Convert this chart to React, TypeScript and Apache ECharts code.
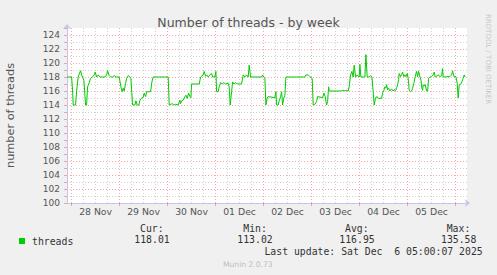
import React, { useEffect, useRef } from 'react';
import * as echarts from 'echarts';

// time in hours since 28 Nov 00:00
const hours = [
  -2.3, 0, 0.5, 0.8, 2, 2.5, 3.3, 3.65, 4.5, 5, 5.5, 6.15, 7, 7.5, 8, 8.8, 9.5, 10.5, 11.3, 11.8,
  12.5, 13.3, 14.2, 16.65, 17.5, 18, 18.8, 19.5, 20.5, 21.3, 22.2, 23.8, 24.65, 25.3, 25.8, 26.3, 27, 27.5, 28.3, 29.15,
  29.65, 30.5, 31.65, 32.15, 32.8, 33.65, 34.15, 35, 35.8, 36.3, 37, 37.5, 39.5, 40.15, 40.8, 48.3, 48.8, 50.3, 51.15, 52,
  53.3, 54.15, 54.5, 55, 55.8, 56.65, 57.15, 57.8, 58.5, 59.15, 59.65, 60, 63.8, 64.5, 65.8, 66.3, 67, 67.5, 68.3, 69.15,
  70, 70.5, 71.65, 72.15, 72.5, 73.3, 73.8, 74.5, 75.3, 76.15, 77, 78.3, 78.8, 79.3, 80, 80.5, 81.15, 82.15, 82.8, 84.15,
  85, 85.8, 86.65, 87.5, 88.3, 88.8, 89.5, 95, 95.5, 96.15, 96.65, 97.15, 97.8, 98.3, 101.65, 102.15, 102.5, 103.3, 103.8, 104.5,
  105, 105.5, 106.15, 106.65, 107.15, 116.65, 117.15, 118.3, 119.15, 120.3, 120.8, 121.65, 122.5, 123, 125.5, 126.15, 126.8, 127.5, 128, 128.5,
  128.8, 135, 135.8, 136.65, 137.5, 138.3, 138.8, 139.5, 140.15, 140.8, 141.3, 142, 142.8, 143.8, 144.15, 144.65, 146.65, 147.15, 147.8, 148.8,
  149.5, 150.15, 150.8, 151.3, 152, 152.8, 153.3, 155, 155.5, 156.15, 156.65, 157.15, 157.5, 158, 158.5, 159.15, 160, 160.8, 161.3, 162,
  162.5, 163, 163.5, 163.8, 164.5, 165, 165.5, 166.15, 166.65, 167.15, 167.8, 168.3, 168.8, 169.5, 170, 170.5, 171.15, 171.8, 172.5, 173,
  173.5, 174.15, 174.65, 175.15, 175.5, 175.8, 176.3, 176.8, 177.5, 178, 178.5, 179.15, 180, 180.8, 181.3, 181.8, 183.5, 184.15, 185, 185.5,
  185.8, 189.15, 190, 190.5, 191.15, 192.15, 192.8, 193.3, 193.8, 194.5, 195.15, 195.8, 196.3, 196.8,
];

const threads = [
  118, 118, 116, 114, 114, 116, 118, 118.3, 118.9, 118.3, 118, 117.5, 114, 114, 116.6, 117.2, 117.8, 118, 118.3, 118.7,
  118, 118.3, 118, 118, 118.3, 118.9, 118.2, 118, 118, 118.2, 118, 118, 116.6, 115.9, 116.4, 116, 117.1, 117.8, 118.2, 118,
  117.8, 114, 114, 114.6, 114, 114, 114.7, 115, 115.1, 115.7, 115.2, 115.9, 115.9, 117.3, 118, 118, 114, 114.2, 114, 114.1,
  114, 114.7, 114.2, 114.6, 114.7, 115.2, 115.4, 114.95, 115.7, 115.2, 115.05, 117, 117, 118, 118.3, 118.8, 118.1, 118.3, 118, 118.3,
  118.5, 118, 118.05, 118.8, 115.9, 115.9, 116.6, 117.2, 117, 117.2, 117, 117.1, 116.6, 114, 115.9, 117.3, 117, 117.2, 117, 117,
  117, 118.3, 118, 118.3, 118, 119.7, 118, 118, 118.3, 118, 117.8, 114, 115, 115.2, 115.05, 115.9, 114, 114, 114.6, 115.2,
  115.9, 114, 115.05, 115.4, 118, 118, 118.3, 118.3, 118.05, 117.8, 114, 114.1, 114.5, 115.2, 115.05, 115.7, 115.2, 114, 114.5, 116.6,
  116, 116, 116.1, 116, 116.1, 116, 116.6, 118.3, 118.8, 118, 119.7, 118, 118.3, 118, 119.8, 118, 118, 121.2, 118, 118,
  118.2, 118.05, 115.9, 114, 115.05, 115.2, 114.95, 114.95, 115.7, 116.1, 116.6, 116.4, 116.9, 116.2, 116.4, 116, 116.3, 116, 116.2, 116.05,
  116.4, 116.9, 117.6, 118.5, 118.05, 118.3, 118.7, 118.05, 118.3, 118.05, 118.5, 117.8, 116.1, 115.9, 116, 116.4, 117.1, 118.05, 118.8, 118.05,
  118.8, 118.05, 117.6, 116.4, 116.1, 116.9, 116.7, 116.9, 116, 116, 117.8, 118, 118.05, 118.3, 118.7, 118, 118.3, 118.05, 118.2, 119.2,
  118, 118.05, 118.3, 118.9, 118.05, 118.05, 117.1, 115, 116.9, 116.95, 117.3, 117.8, 118.3, 118,
];

const dayTicks = [0, 24, 48, 72, 96, 120, 144, 168, 192];
const sixHourTicks = [6, 12, 18, 30, 36, 42, 54, 60, 66, 78, 84, 90, 102, 108, 114, 126, 132, 138, 150, 156, 162, 174, 180, 186];
const xLabelHours = [12, 36, 60, 84, 108, 132, 156, 180];
const xLabels = ['28 Nov', '29 Nov', '30 Nov', '01 Dec', '02 Dec', '03 Dec', '04 Dec', '05 Dec'];

const statHeaders = ['Cur:', 'Min:', 'Avg:', 'Max:'];
const statValues = ['118.01', '113.02', '116.95', '135.58'];
const lastUpdate = 'Last update: Sat Dec  6 05:00:07 2025';

const RED = 'rgba(240,110,110,0.6)';
const GREY = '#d2d2d2';
const AXIS = '#c4c4f0';
const SANS = 'DejaVu Sans';
const MONO = 'DejaVu Sans Mono';

export default function App() {
  const ref = useRef<HTMLDivElement>(null);
  useEffect(() => {
    const chart = echarts.init(ref.current!, null, { renderer: 'svg' });
    const yColors: string[] = [];
    for (let v = 100; v <= 125; v++) yColors.push(v === 100 || v === 125 ? 'transparent' : v % 2 === 0 ? RED : GREY);
    const headerX = [140, 243.3, 345, 446.7];
    const valueX = [134.3, 237.3, 339.3, 441];
    const graphics: any[] = [];
    statHeaders.forEach((t, i) =>
      graphics.push({ type: 'text', x: headerX[i], y: 228, style: { text: t, font: `9.8px "${MONO}"`, fill: '#333', verticalAlign: 'middle' } })
    );
    statValues.forEach((t, i) =>
      graphics.push({ type: 'text', x: valueX[i], y: 239.5, style: { text: t, font: `9.8px "${MONO}"`, fill: '#333', verticalAlign: 'middle' } })
    );
    graphics.push({ type: 'text', x: 482.7, y: 251.8, style: { text: lastUpdate, font: `9.8px "${MONO}"`, fill: '#333', align: 'right', verticalAlign: 'middle' } });
    graphics.push({ type: 'text', x: 223, y: 264.5, style: { text: 'Munin 2.0.73', font: `7.6px "${SANS}"`, fill: '#bdbdbd', verticalAlign: 'middle' } });
    graphics.push({ type: 'text', x: 488, y: 14, rotation: -Math.PI / 2, style: { text: 'RRDTOOL / TOBI OETIKER', font: `7px "${SANS}"`, fill: '#c8c8c8', verticalAlign: 'middle' } });

    const option: any = {
      animation: false,
      backgroundColor: '#f0f0f0',
      title: {
        text: 'Number of threads - by week',
        left: 'center',
        top: 10.5,
        textStyle: { fontFamily: SANS, fontSize: 12.5, fontWeight: 'normal', color: '#555' },
      },
      legend: {
        data: ['threads'],
        left: 14,
        top: 231,
        icon: 'rect',
        itemWidth: 6,
        itemHeight: 6,
        selectedMode: false,
        textStyle: { fontFamily: MONO, fontSize: 9.8, color: '#333', padding: [0, 0, 0, 2] },
      },
      grid: { left: 67, top: 28, width: 400, height: 175, show: true, backgroundColor: '#fff', borderWidth: 0, outerBoundsMode: 'none' },
      xAxis: [
        {
          type: 'value',
          min: -2.3,
          max: 197.7,
          position: 'bottom',
          axisLine: { show: true, onZero: false, lineStyle: { color: AXIS }, symbol: ['none', 'arrow'], symbolSize: [6, 5], symbolOffset: [0, 3] },
          axisTick: { show: true, customValues: dayTicks, length: 3, lineStyle: { color: RED } },
          axisLabel: {
            customValues: xLabelHours,
            margin: 4,
            fontFamily: SANS,
            fontSize: 9.3,
            color: '#555',
            formatter: (v: number) => xLabels[xLabelHours.indexOf(Math.round(v))] ?? '',
          },
          splitLine: { show: true, lineStyle: { color: RED, type: [1, 2], width: 1 } },
        },
        {
          type: 'value',
          min: -2.3,
          max: 197.7,
          position: 'bottom',
          axisLine: { show: false },
          axisTick: { show: false, customValues: sixHourTicks },
          axisLabel: { show: false },
          splitLine: { show: true, lineStyle: { color: GREY, type: [1, 2], width: 1 } },
        },
      ],
      yAxis: {
        type: 'value',
        min: 100,
        max: 125,
        interval: 1,
        name: 'number of threads',
        nameLocation: 'middle',
        nameGap: 51,
        nameRotate: 90,
        nameTextStyle: { fontFamily: SANS, fontSize: 11.3, color: '#555' },
        axisLine: { show: true, onZero: false, lineStyle: { color: AXIS }, symbol: ['none', 'arrow'], symbolSize: [6, 5], symbolOffset: [0, 4] },
        axisTick: { show: true, length: 3, lineStyle: { color: RED } },
        axisLabel: {
          margin: 7,
          fontFamily: SANS,
          fontSize: 9,
          color: '#555',
          formatter: (v: number) => (v % 2 === 0 && v < 125 ? String(v) : ''),
        },
        splitLine: { show: true, lineStyle: { color: yColors, type: [1, 2], width: 1 } },
      },
      series: [
        {
          name: 'threads',
          type: 'line',
          xAxisIndex: 0,
          data: hours.map((h, i) => [h, threads[i]]),
          showSymbol: false,
          symbol: 'none',
          lineStyle: { color: '#00cc00', width: 1 },
          itemStyle: { color: '#00cc00' },
          z: 10,
        },
      ],
      graphic: graphics,
    };
    chart.setOption(option);
    return () => chart.dispose();
  }, []);
  return (
    <div
      ref={ref}
      style={{ position: 'fixed', left: 0, top: 0, width: 497, height: 275, background: '#f0f0f0' }}
    />
  );
}
